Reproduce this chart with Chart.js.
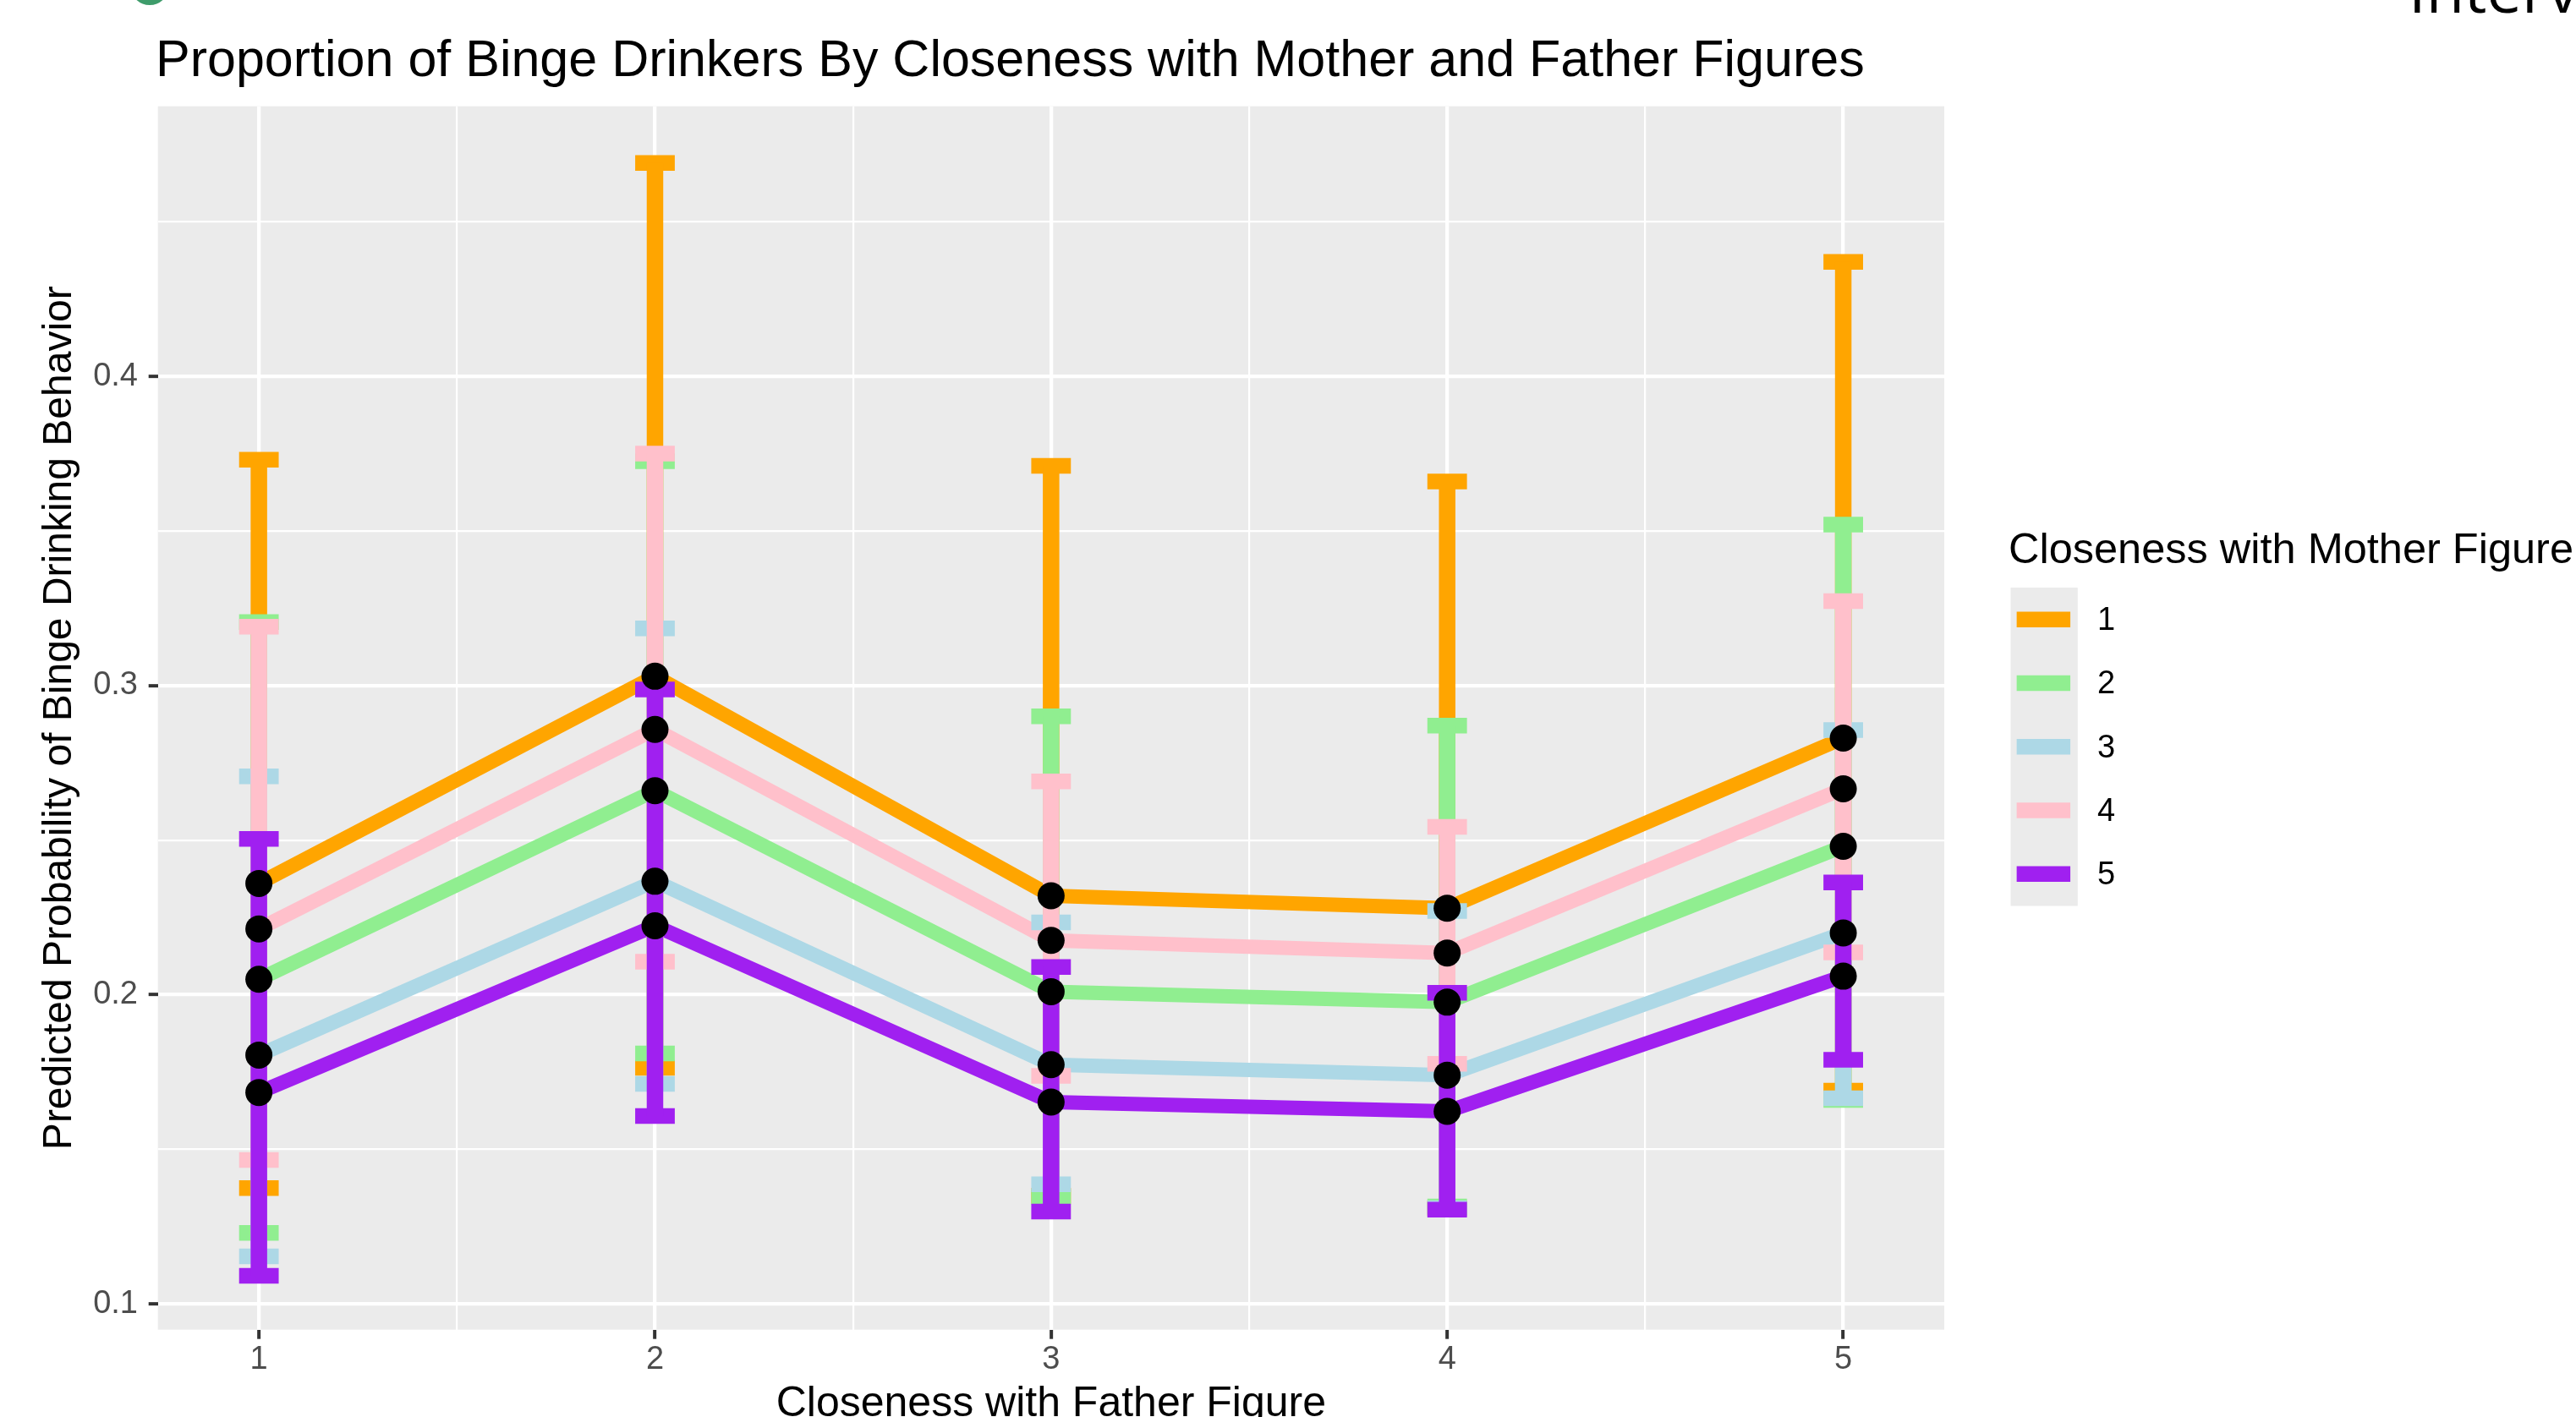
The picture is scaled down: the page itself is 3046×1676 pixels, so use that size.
<!DOCTYPE html>
<html>
<head>
<meta charset="utf-8">
<title>Proportion of Binge Drinkers By Closeness with Mother and Father Figures</title>
<script src="https://cdn.jsdelivr.net/npm/chart.js@4.4.1/dist/chart.umd.min.js"></script>
<style>
  html, body { margin: 0; padding: 0; background: #ffffff; }
  canvas { display: block; }
</style>
</head>
<body>
<canvas id="chart" width="3046" height="1676"></canvas>
<script>
// ---- data -------------------------------------------------------------
const fatherCloseness = [1, 2, 3, 4, 5];
const motherLevels = ['1', '2', '3', '4', '5'];

// predicted probability with lower / upper interval bound, per mother-closeness level
const fitMother1  = [0.236, 0.303, 0.232, 0.228, 0.283];
const lowMother1  = [0.1375, 0.1764, 0.135, 0.131, 0.169];
const highMother1 = [0.373, 0.469, 0.371, 0.366, 0.437];

const fitMother2  = [0.205, 0.266, 0.201, 0.1976, 0.248];
const lowMother2  = [0.123, 0.181, 0.1347, 0.1315, 0.166];
const highMother2 = [0.3205, 0.3725, 0.290, 0.287, 0.352];

const fitMother3  = [0.1805, 0.2367, 0.1774, 0.174, 0.220];
const lowMother3  = [0.1154, 0.1712, 0.1387, 0.131, 0.1665];
const highMother3 = [0.2706, 0.3185, 0.2234, 0.2271, 0.2856];

const fitMother4  = [0.2213, 0.2858, 0.2176, 0.2135, 0.2666];
const lowMother4  = [0.1466, 0.2107, 0.1738, 0.1777, 0.2137];
const highMother4 = [0.319, 0.375, 0.269, 0.2543, 0.3273];

const fitMother5  = [0.1684, 0.2223, 0.1653, 0.1623, 0.2060];
const lowMother5  = [0.1091, 0.1608, 0.1299, 0.1305, 0.1790];
const highMother5 = [0.2504, 0.2987, 0.2090, 0.2006, 0.2363];

// axis breaks
const xTickValues = [1, 2, 3, 4, 5];
const xTickLabels = ['1', '2', '3', '4', '5'];
const xMinorBreaks = [1.5, 2.5, 3.5, 4.5];
const yTickValues = [0.1, 0.2, 0.3, 0.4];
const yTickLabels = ['0.1', '0.2', '0.3', '0.4'];
const yMinorBreaks = [0.15, 0.25, 0.35, 0.45];

// text
const chartTitle = 'Proportion of Binge Drinkers By Closeness with Mother and Father Figures';
const xTitle = 'Closeness with Father Figure';
const yTitle = 'Predicted Probability of Binge Drinking Behavior';
const legendTitle = 'Closeness with Mother Figure';
const cornerText = 'Interv';

// ---- styling ----------------------------------------------------------
const seriesColors = ['#FFA500', '#90EE90', '#ADD8E6', '#FFC0CB', '#A020F0'];
const FONT = '"Liberation Sans", Arial, Helvetica, sans-serif';
const errorbarWidth = 0.1;          // cap width in x units

const fits  = [fitMother1, fitMother2, fitMother3, fitMother4, fitMother5];
const lows  = [lowMother1, lowMother2, lowMother3, lowMother4, lowMother5];
const highs = [highMother1, highMother2, highMother3, highMother4, highMother5];

const lineDatasets = motherLevels.map((lvl, i) => ({
  label: lvl,
  data: fatherCloseness.map((x, j) => ({ x: x, y: fits[i][j] })),
  showLine: true,
  borderColor: seriesColors[i],
  backgroundColor: seriesColors[i],
  borderWidth: 17,
  borderCapStyle: 'butt',
  borderJoinStyle: 'round',
  pointRadius: 0,
  pointHoverRadius: 0,
  tension: 0,
  order: 10 - i            // level 1 drawn first, level 5 on top
}));

const pointDataset = {
  label: 'estimates',
  data: motherLevels.flatMap((lvl, i) => fatherCloseness.map((x, j) => ({ x: x, y: fits[i][j] }))),
  showLine: false,
  pointRadius: 16,
  pointHoverRadius: 16,
  pointBackgroundColor: '#000000',
  pointBorderWidth: 0,
  order: 0
};

const isMember = (arr, v) => arr.some(a => Math.abs(a - v) < 1e-9);

// grey panel behind the grid
const panelPlugin = {
  id: 'panel',
  beforeDraw(chart) {
    const { ctx, chartArea: a } = chart;
    ctx.save();
    ctx.fillStyle = '#ffffff';
    ctx.fillRect(0, 0, chart.width, chart.height);
    ctx.fillStyle = '#EBEBEB';
    ctx.fillRect(a.left, a.top, a.right - a.left, a.bottom - a.top);
    ctx.restore();
  }
};

// interval bars: drawn above the lines, below the points
const errorbarPlugin = {
  id: 'errorbars',
  beforeDatasetDraw(chart, args) {
    if (args.index !== motherLevels.length) return;
    const { ctx } = chart;
    const xs = chart.scales.x, ys = chart.scales.y;
    ctx.save();
    ctx.lineCap = 'butt';
    motherLevels.forEach((lvl, i) => {
      ctx.strokeStyle = seriesColors[i];
      fatherCloseness.forEach((fx, j) => {
        const xc = xs.getPixelForValue(fx);
        const xl = xs.getPixelForValue(fx - errorbarWidth / 2);
        const xr = xs.getPixelForValue(fx + errorbarWidth / 2);
        const yh = ys.getPixelForValue(highs[i][j]);
        const yl = ys.getPixelForValue(lows[i][j]);
        ctx.lineWidth = 18.5;
        ctx.beginPath();
        ctx.moveTo(xl, yh); ctx.lineTo(xr, yh);
        ctx.moveTo(xl, yl); ctx.lineTo(xr, yl);
        ctx.stroke();
        ctx.lineWidth = 19.5;
        ctx.beginPath();
        ctx.moveTo(xc, yh); ctx.lineTo(xc, yl);
        ctx.stroke();
      });
    });
    ctx.restore();
  }
};

// title, legend and page furniture
const annotationPlugin = {
  id: 'annotations',
  afterDraw(chart) {
    const { ctx } = chart;
    ctx.save();

    // main title, left-aligned with the panel
    ctx.fillStyle = '#000000';
    ctx.textAlign = 'left';
    ctx.textBaseline = 'alphabetic';
    ctx.font = '61px ' + FONT;
    ctx.fillText(chartTitle, 184, 90);

    // legend
    const legX = 2377.5, legY = 695, keyW = 79.3, keyH = 75.3;
    ctx.font = '50.5px ' + FONT;
    ctx.fillText(legendTitle, 2375, 666);
    ctx.fillStyle = '#EBEBEB';
    ctx.fillRect(legX, legY, keyW, keyH * motherLevels.length);
    ctx.lineCap = 'butt';
    ctx.lineWidth = 18.5;
    ctx.font = '38px ' + FONT;
    ctx.textBaseline = 'middle';
    chart.data.datasets.slice(0, motherLevels.length).forEach((ds, i) => {
      const cy = legY + keyH * (i + 0.5);
      ctx.strokeStyle = ds.borderColor;
      ctx.beginPath();
      ctx.moveTo(legX + keyW * 0.09, cy);
      ctx.lineTo(legX + keyW * 0.89, cy);
      ctx.stroke();
      ctx.fillStyle = '#000000';
      ctx.fillText(ds.label, 2480, cy + 2);
    });

    // slide furniture at the top edge
    ctx.fillStyle = '#000000';
    ctx.textBaseline = 'alphabetic';
    ctx.font = '74px "Open Sans", sans-serif';
    ctx.fillText(cornerText, 2848, 15);
    ctx.strokeStyle = '#3E9C6B';
    ctx.lineWidth = 6;
    ctx.beginPath();
    ctx.arc(177, -17, 20, 0, Math.PI);
    ctx.stroke();

    ctx.restore();
  }
};

Chart.defaults.font.family = FONT;

new Chart(document.getElementById('chart'), {
  type: 'scatter',
  data: { datasets: [...lineDatasets, pointDataset] },
  plugins: [panelPlugin, errorbarPlugin, annotationPlugin],
  options: {
    responsive: false,
    devicePixelRatio: 1,
    animation: false,
    events: [],
    layout: { padding: { left: 0, top: 125.7, right: 747, bottom: 0 } },
    plugins: {
      legend: { display: false },
      title: { display: false },
      tooltip: { enabled: false }
    },
    scales: {
      x: {
        type: 'linear',
        position: 'bottom',
        min: 0.745,
        max: 5.255,
        afterBuildTicks: (s) => {
          s.ticks = [...xTickValues, ...xMinorBreaks].sort((a, b) => a - b).map(v => ({ value: v }));
        },
        afterFit: (s) => { s.height = 103.3; },
        border: { display: false },
        grid: {
          color: '#FFFFFF',
          lineWidth: (c) => (c.tick && isMember(xTickValues, c.tick.value)) ? 4.3 : 2.2,
          drawTicks: true,
          tickLength: 11,
          tickWidth: 4,
          tickColor: (c) => (c.tick && isMember(xTickValues, c.tick.value)) ? '#333333' : 'rgba(0,0,0,0)'
        },
        ticks: {
          autoSkip: false,
          maxRotation: 0,
          minRotation: 0,
          padding: 2.3,
          color: '#4D4D4D',
          font: { size: 38 },
          callback: (v) => {
            const k = xTickValues.findIndex(t => Math.abs(t - v) < 1e-9);
            return k >= 0 ? xTickLabels[k] : '';
          }
        },
        title: {
          display: true,
          text: xTitle,
          color: '#000000',
          font: { size: 50 },
          padding: { top: 0, bottom: -15.5 }
        }
      },
      y: {
        type: 'linear',
        position: 'left',
        min: 0.0917,
        max: 0.4873,
        afterBuildTicks: (s) => {
          s.ticks = [...yTickValues, ...yMinorBreaks].sort((a, b) => a - b).map(v => ({ value: v }));
        },
        afterFit: (s) => { s.width = 186.7; },
        border: { display: false },
        grid: {
          color: '#FFFFFF',
          lineWidth: (c) => (c.tick && isMember(yTickValues, c.tick.value)) ? 4.3 : 2.2,
          drawTicks: true,
          tickLength: 11,
          tickWidth: 4,
          tickColor: (c) => (c.tick && isMember(yTickValues, c.tick.value)) ? '#333333' : 'rgba(0,0,0,0)'
        },
        ticks: {
          autoSkip: false,
          padding: 12.7,
          color: '#4D4D4D',
          font: { size: 38 },
          callback: (v) => {
            const k = yTickValues.findIndex(t => Math.abs(t - v) < 1e-9);
            return k >= 0 ? yTickLabels[k] : '';
          }
        },
        title: {
          display: true,
          text: yTitle,
          color: '#000000',
          font: { size: 48 },
          padding: { top: 41.7, bottom: 0 }
        }
      }
    }
  }
});
</script>
</body>
</html>
